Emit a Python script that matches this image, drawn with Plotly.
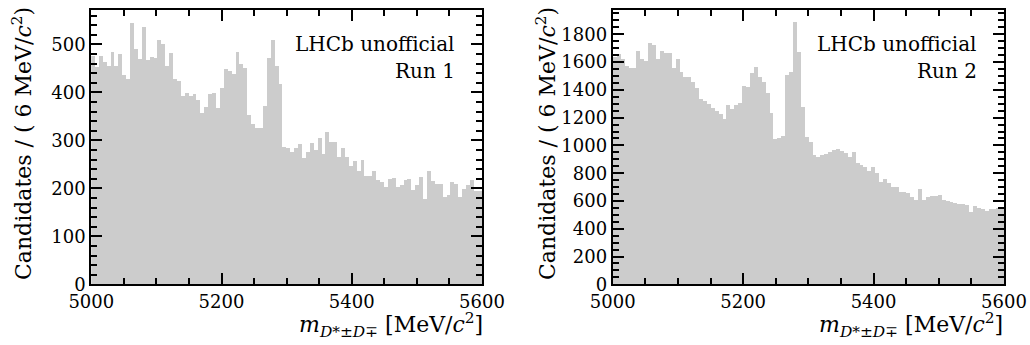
import plotly.graph_objects as go

# ---- data -------------------------------------------------------------
bin_edges_start = 5000
bin_width = 6
n_bins = 100
bin_centers = [bin_edges_start + bin_width * (i + 0.5) for i in range(n_bins)]

run1_counts = [
    476, 452, 476, 464, 454, 483, 455, 480, 437, 428,
    545, 491, 470, 537, 467, 474, 472, 510, 500, 455,
    481, 428, 424, 392, 398, 392, 397, 385, 356, 369,
    396, 399, 367, 410, 448, 444, 439, 485, 459, 451,
    352, 335, 326, 326, 371, 471, 508, 454, 417, 287,
    283, 275, 283, 292, 264, 276, 294, 280, 304, 272,
    318, 296, 297, 266, 285, 266, 247, 257, 236, 259,
    226, 226, 236, 217, 213, 203, 219, 222, 203, 206,
    218, 219, 196, 206, 223, 177, 236, 216, 210, 210,
    181, 186, 213, 209, 181, 198, 207, 218, 195, 195,
]

run2_counts = [
    1635, 1660, 1620, 1575, 1560, 1560, 1680, 1625, 1605, 1735,
    1720, 1620, 1680, 1665, 1665, 1560, 1620, 1531, 1495, 1495,
    1460, 1411, 1334, 1320, 1300, 1272, 1250, 1229, 1188, 1289,
    1262, 1290, 1303, 1428, 1420, 1524, 1562, 1490, 1454, 1380,
    1231, 1044, 1050, 1068, 1510, 1530, 1886, 1675, 1279, 1058,
    1027, 931, 919, 934, 936, 955, 967, 977, 960, 948,
    919, 953, 871, 857, 842, 818, 847, 799, 739, 756,
    732, 703, 698, 667, 667, 655, 631, 605, 684, 607,
    631, 636, 638, 641, 607, 600, 595, 583, 578, 578,
    571, 521, 566, 547, 540, 530, 540, 545, 552, 547,
]

x_tick_vals = [5000, 5200, 5400, 5600]
x_tick_text = ["5000", "5200", "5400", "5600"]
run1_y_ticks = [0, 100, 200, 300, 400, 500]
run2_y_ticks = [0, 200, 400, 600, 800, 1000, 1200, 1400, 1600, 1800]
panel_labels = ["Run 1", "Run 2"]
experiment_label = "LHCb unofficial"

# ---- styling ----------------------------------------------------------
W, H = 1030, 345
FONT = "DejaVu Serif"
BAR_COLOR = "#cccccc"

def px_x(p):
    return p / W

def px_y(p):
    return 1 - p / H

fig = go.Figure()

fig.add_trace(go.Bar(x=bin_centers, y=run1_counts, width=bin_width,
                     marker=dict(color=BAR_COLOR, line=dict(width=0)),
                     xaxis="x", yaxis="y", showlegend=False))
fig.add_trace(go.Bar(x=bin_centers, y=run2_counts, width=bin_width,
                     marker=dict(color=BAR_COLOR, line=dict(width=0)),
                     xaxis="x2", yaxis="y2", showlegend=False))

common_axis = dict(
    showline=True, linecolor="black", linewidth=2, mirror="allticks",
    ticks="inside", ticklen=11, tickwidth=2, tickcolor="black",
    showgrid=False, zeroline=False, automargin=False,
    tickfont=dict(family=FONT, size=18, color="black"),
)

def minor(dt):
    return dict(dtick=dt, ticklen=6, tickwidth=2, ticks="inside", tickcolor="black")

y_dom = [px_y(284.3), px_y(10)]

fig.update_layout(
    width=W, height=H, autosize=False,
    margin=dict(l=0, r=0, t=0, b=0, pad=0, autoexpand=False),
    paper_bgcolor="white", plot_bgcolor="white",
    bargap=0, showlegend=False,
    xaxis=dict(domain=[px_x(91.3), px_x(482)], range=[5000, 5600],
               tickvals=x_tick_vals, ticktext=x_tick_text, anchor="y",
               minor=minor(50), **common_axis),
    yaxis=dict(domain=y_dom, range=[0, 571.5], tickvals=run1_y_ticks, anchor="x",
               minor=minor(20), **common_axis),
    xaxis2=dict(domain=[px_x(612.7), px_x(1004)], range=[5000, 5600],
                tickvals=x_tick_vals, ticktext=x_tick_text, anchor="y2",
                minor=minor(50), **common_axis),
    yaxis2=dict(domain=y_dom, range=[0, 1975], tickvals=run2_y_ticks, anchor="x2",
                minor=minor(50), **common_axis),
)

ytitle = "Candidates / ( 6 MeV/<i>c</i><sup>2</sup>)"
xtitle = "<i>m</i><sub><i>D</i>*±<i>D</i>∓</sub> [MeV/<i>c</i><sup>2</sup>]"
title_font = dict(family=FONT, size=22, color="black")
label_font = dict(family=FONT, size=20, color="black")

annotations = []
for ytx, xt_right, lab_right, run_lab in [(22, 485, 457, panel_labels[0]),
                                          (546, 1005, 979, panel_labels[1])]:
    annotations.append(dict(text=ytitle, xref="paper", yref="paper",
                            x=px_x(ytx), y=px_y(144), xanchor="center", yanchor="middle",
                            textangle=-90, showarrow=False, font=title_font))
    annotations.append(dict(text=xtitle, xref="paper", yref="paper",
                            x=px_x(xt_right), y=px_y(325), xanchor="right", yanchor="middle",
                            showarrow=False, font=title_font))
    annotations.append(dict(text=experiment_label, xref="paper", yref="paper",
                            x=px_x(lab_right), y=px_y(44), xanchor="right", yanchor="middle",
                            showarrow=False, font=label_font))
    annotations.append(dict(text=run_lab, xref="paper", yref="paper",
                            x=px_x(lab_right), y=px_y(71), xanchor="right", yanchor="middle",
                            showarrow=False, font=label_font))

fig.update_layout(annotations=annotations)

fig.write_html("out.html")
